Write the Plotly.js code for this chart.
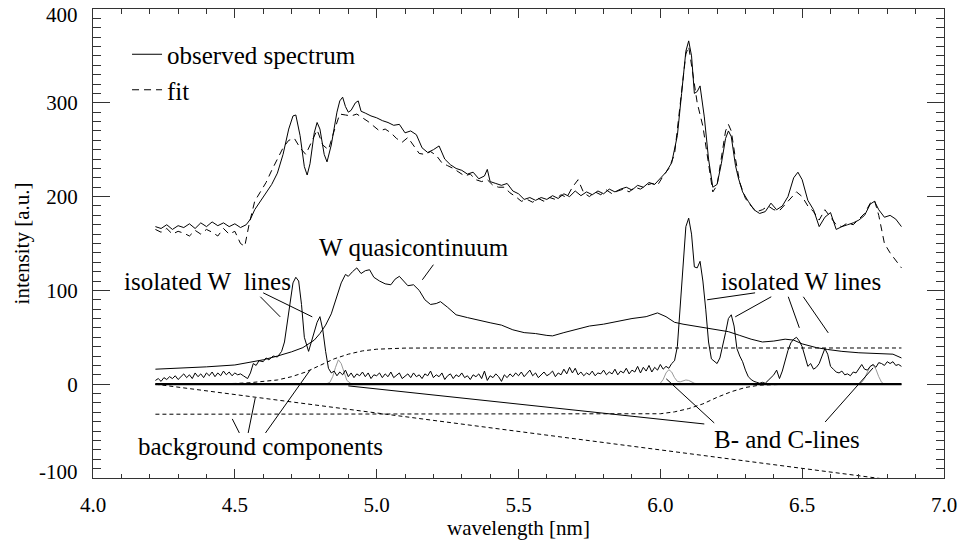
<!DOCTYPE html>
<html>
<head>
<meta charset="utf-8">
<script src="https://cdn.plot.ly/plotly-3.0.1.min.js"></script>
<style>html,body{margin:0;padding:0;background:#fff;}#chart{width:959px;height:540px;}</style>
</head>
<body>
<div id="chart"></div>
<script>
// ---- observed spectrum ----
const obsX = [4.22,4.24,4.26,4.28,4.30,4.32,4.34,4.36,4.38,4.40,4.42,4.44,4.46,4.48,4.50,4.52,4.54,4.555,4.57,4.59,4.61,4.63,4.65,4.67,4.69,4.705,4.715,4.73,4.745,4.755,4.765,4.78,4.79,4.80,4.815,4.825,4.84,4.86,4.87,4.88,4.89,4.90,4.91,4.925,4.935,4.945,4.96,4.98,5.00,5.02,5.04,5.06,5.08,5.10,5.12,5.14,5.16,5.18,5.20,5.22,5.24,5.26,5.28,5.30,5.32,5.34,5.36,5.38,5.39,5.40,5.42,5.44,5.46,5.48,5.50,5.52,5.54,5.56,5.58,5.60,5.62,5.64,5.66,5.68,5.70,5.72,5.74,5.76,5.78,5.80,5.82,5.84,5.86,5.88,5.90,5.92,5.94,5.96,5.98,6.00,6.02,6.04,6.06,6.075,6.09,6.10,6.11,6.12,6.13,6.14,6.155,6.17,6.185,6.20,6.215,6.23,6.24,6.25,6.265,6.275,6.29,6.31,6.33,6.35,6.37,6.39,6.41,6.43,6.45,6.47,6.485,6.50,6.52,6.54,6.56,6.58,6.60,6.62,6.64,6.66,6.68,6.70,6.72,6.74,6.755,6.77,6.79,6.81,6.83,6.85];
const obsY = [168,166,170,165,169,167,171,166,172,168,173,169,172,168,171,167,170,176,186,195,205,213,225,245,272,286,287,265,232,223,235,268,279,272,245,237,255,290,302,306,296,290,292,300,302,291,289,286,284,281,279,276,277,268,270,266,252,247,250,254,240,234,230,228,224,226,219,222,229,216,214,212,214,206,203,197,199,196,199,197,201,198,203,200,206,201,205,202,206,203,208,205,208,210,207,212,210,215,213,220,226,236,265,310,355,366,350,310,312,318,285,240,210,213,235,262,270,264,233,220,205,195,186,182,184,193,186,190,200,220,226,218,196,186,168,178,183,165,168,170,172,175,180,192,195,186,178,180,176,168];

// ---- fit ----
const fitX = [4.22,4.24,4.26,4.28,4.30,4.32,4.34,4.36,4.38,4.40,4.42,4.44,4.46,4.48,4.50,4.52,4.535,4.55,4.57,4.59,4.61,4.63,4.65,4.67,4.69,4.71,4.73,4.75,4.77,4.79,4.81,4.83,4.85,4.87,4.89,4.91,4.93,4.95,4.97,4.99,5.01,5.03,5.05,5.07,5.09,5.11,5.13,5.15,5.17,5.19,5.21,5.23,5.25,5.27,5.29,5.31,5.33,5.35,5.37,5.39,5.41,5.43,5.45,5.47,5.49,5.51,5.53,5.55,5.57,5.59,5.61,5.63,5.65,5.67,5.69,5.71,5.73,5.75,5.77,5.79,5.81,5.83,5.85,5.87,5.89,5.91,5.93,5.95,5.97,5.99,6.01,6.03,6.05,6.07,6.09,6.10,6.115,6.13,6.15,6.17,6.185,6.20,6.215,6.23,6.24,6.25,6.265,6.28,6.30,6.32,6.34,6.36,6.38,6.40,6.42,6.44,6.46,6.48,6.50,6.52,6.54,6.56,6.58,6.60,6.62,6.64,6.66,6.68,6.70,6.72,6.74,6.755,6.77,6.79,6.81,6.83,6.85];
const fitY = [165,162,166,160,163,161,158,164,160,165,162,158,166,160,163,150,147,170,195,205,215,228,240,252,260,262,252,245,258,271,255,250,270,288,287,286,288,284,280,275,270,272,268,262,258,263,255,246,245,248,244,236,233,230,226,222,224,218,216,218,212,210,210,204,200,195,197,194,198,195,199,197,202,199,210,218,204,200,205,202,207,203,206,208,205,210,208,212,214,212,222,230,245,300,352,360,330,300,275,235,205,212,240,270,277,270,240,215,198,190,184,186,190,186,185,192,198,205,200,190,184,175,186,178,170,168,172,170,176,182,193,196,180,150,140,132,124];

// ---- W quasicontinuum ----
const qcX = [4.22,4.30,4.40,4.50,4.55,4.60,4.65,4.70,4.74,4.78,4.80,4.82,4.84,4.86,4.875,4.89,4.90,4.915,4.93,4.945,4.96,4.975,4.99,5.01,5.03,5.05,5.065,5.08,5.095,5.11,5.13,5.15,5.17,5.19,5.21,5.225,5.25,5.28,5.32,5.36,5.40,5.44,5.48,5.52,5.56,5.60,5.62,5.66,5.70,5.75,5.80,5.85,5.90,5.95,5.99,6.02,6.05,6.08,6.12,6.16,6.20,6.24,6.28,6.32,6.36,6.40,6.44,6.47,6.50,6.55,6.59,6.64,6.70,6.76,6.82,6.85];
const qcY = [16,17,18.5,20.5,23,26,30,34.5,39,47,54,63,75,94,108,117,115,120,124,118,121,122,114,110,107,106,112,115,110,105,106,100,90,85,86,88,82,74,71,68,65.5,63,58,55,54,52,51.5,55,58,62,64,67,70,72,76,72,66,64,62,60,58,56,52,48,45,46,48,47,43,39,37,35,33.5,33,32,28];

// ---- isolated W lines ----
const wlX = [4.22,4.23,4.24,4.25,4.26,4.27,4.28,4.29,4.30,4.31,4.32,4.33,4.34,4.35,4.36,4.37,4.38,4.39,4.40,4.41,4.42,4.43,4.44,4.45,4.46,4.47,4.48,4.49,4.50,4.51,4.52,4.53,4.545,4.555,4.565,4.575,4.585,4.60,4.61,4.62,4.635,4.65,4.665,4.675,4.685,4.695,4.705,4.715,4.725,4.735,4.745,4.76,4.775,4.79,4.80,4.81,4.82,4.83,4.84,4.85,4.86,4.87,4.88,4.89,4.90,4.91,4.92,4.93,4.94,4.95,4.96,4.97,4.98,4.99,5.00,5.01,5.02,5.03,5.04,5.05,5.06,5.07,5.08,5.09,5.10,5.11,5.12,5.13,5.14,5.15,5.16,5.17,5.18,5.19,5.20,5.21,5.22,5.23,5.24,5.25,5.26,5.27,5.28,5.29,5.30,5.31,5.32,5.33,5.34,5.35,5.36,5.37,5.38,5.39,5.40,5.41,5.42,5.43,5.44,5.45,5.46,5.47,5.48,5.49,5.50,5.51,5.52,5.53,5.54,5.55,5.56,5.57,5.58,5.59,5.60,5.61,5.62,5.63,5.64,5.65,5.66,5.67,5.68,5.69,5.70,5.71,5.72,5.73,5.74,5.75,5.76,5.77,5.78,5.79,5.80,5.81,5.82,5.83,5.84,5.85,5.86,5.87,5.88,5.89,5.90,5.91,5.92,5.93,5.94,5.95,5.96,5.97,5.98,5.99,6.00,6.01,6.02,6.03,6.04,6.05,6.06,6.07,6.08,6.09,6.10,6.11,6.12,6.13,6.14,6.15,6.16,6.17,6.18,6.19,6.20,6.21,6.22,6.23,6.24,6.25,6.26,6.27,6.28,6.29,6.30,6.31,6.32,6.33,6.34,6.35,6.36,6.37,6.38,6.39,6.40,6.41,6.42,6.43,6.44,6.45,6.46,6.47,6.48,6.49,6.50,6.51,6.52,6.53,6.54,6.55,6.56,6.57,6.58,6.59,6.60,6.61,6.62,6.63,6.64,6.65,6.66,6.67,6.68,6.69,6.70,6.71,6.72,6.73,6.74,6.75,6.76,6.77,6.78,6.79,6.80,6.81,6.82,6.83,6.84,6.85];
const wlY = [4,6,3,7,5,8,6,9,5,8,11,7,10,6,12,8,11,7,12,9,13,8,12,9,14,10,13,9,12,10,11,9,6,12,22,20,25,24,28,26,30,29,35,45,65,90,108,114,110,85,50,35,50,66,72,58,35,17,12,14,9,13,10,15,8,12,7,11,9,13,8,12,6,10,9,12,7,11,8,13,7,10,12,6,9,11,7,12,8,10,6,11,9,14,7,10,8,12,5,9,11,6,10,8,12,7,9,5,10,8,11,6,14,4,9,7,11,8,3,10,7,11,8,12,9,13,8,11,15,9,12,7,10,13,9,11,14,8,12,10,16,11,18,12,17,10,13,9,12,10,14,9,12,11,15,10,13,11,16,10,14,12,17,11,15,13,19,12,18,14,20,13,18,15,21,16,19,17,22,25,40,80,130,168,177,160,125,124,131,110,80,45,27,24,22,28,40,55,70,74,62,38,30,24,15,8,5,3,2,1,2,1,4,7,10,15,6,14,26,36,44,48,50,46,40,28,19,22,16,18,22,30,38,32,19,16,13,12,14,10,11,9,13,12,17,21,16,15,19,21,18,23,22,20,24,22,24,20,21,19];

// ---- B- and C-lines ----
const bcX = [4.22,4.82,4.835,4.845,4.855,4.865,4.875,4.885,4.895,4.91,4.93,5.99,6.00,6.01,6.02,6.03,6.04,6.05,6.06,6.07,6.08,6.09,6.10,6.11,6.12,6.14,6.70,6.71,6.72,6.73,6.74,6.75,6.76,6.77,6.78,6.79,6.85];
const bcY = [0,0,2,8,18,26,22,12,4,0.5,0,0,1,5,12,15.5,13,7,3,2.5,3.5,4.5,4,2.5,1,0,0,2,6,13,19,20.5,16,8,2,0,0];

// ---- background components ----
const bgStepX = [4.22,4.40,4.50,4.55,4.60,4.65,4.70,4.75,4.80,4.85,4.90,4.95,5.00,5.05,5.10,5.20,6.85];
const bgStepY = [0,0.3,0.8,1.5,2.8,4.5,8,13,20,27,32,35.5,37.3,38.2,38.5,38.6,38.6];
const bgLowX = [4.22,5.95,6.00,6.05,6.10,6.15,6.20,6.25,6.30,6.35,6.40,6.45,6.85];
const bgLowY = [-32,-32,-31.5,-29.5,-26,-21,-14,-8,-3.5,-1,-0.3,0,0];
const bgLinX = [4.22,6.85];
const bgLinY = [0,-103.5];
const zeroX = [4.22,6.85];
const zeroY = [0,0];

// ---- tick labels ----
const xTickVals = [4.0,4.5,5.0,5.5,6.0,6.5,7.0];
const xTickText = ['4.0','4.5','5.0','5.5','6.0','6.5','7.0'];
const yTickVals = [-100,0,100,200,300,400];
const yTickText = ['','0','100','200','300',''];
// end labels are drawn slightly inside the frame, as in the original
const yEndLabels = [{v:-100, t:'-100', shift:6}, {v:400, t:'400', shift:-6}];

const FONT = '"Liberation Serif", "Times New Roman", "DejaVu Serif", serif';
const bgDash = '4px,3px';

const traces = [
  {x: bcX, y: bcY, mode:'lines', line:{color:'#999999', width:1}, showlegend:false},
  {x: bgStepX, y: bgStepY, mode:'lines', line:{color:'#000', width:1, dash:bgDash}, showlegend:false},
  {x: bgLowX, y: bgLowY, mode:'lines', line:{color:'#000', width:1, dash:bgDash}, showlegend:false},
  {x: bgLinX, y: bgLinY, mode:'lines', line:{color:'#000', width:1, dash:bgDash}, showlegend:false},
  {x: qcX, y: qcY, mode:'lines', line:{color:'#000', width:1}, showlegend:false},
  {x: wlX, y: wlY, mode:'lines', line:{color:'#000', width:1}, showlegend:false},
  {x: zeroX, y: zeroY, mode:'lines', line:{color:'#000', width:2.2}, showlegend:false},
  {x: obsX, y: obsY, mode:'lines', name:'observed spectrum', legendgroup:'a', line:{color:'#000', width:1}},
  {x: fitX, y: fitY, mode:'lines', name:'fit', legendgroup:'b', line:{color:'#000', width:1, dash:'7px,5px'}}
];

function seg(x0,y0,x1,y1){return {type:'line', xref:'x', yref:'y', x0:x0, y0:y0, x1:x1, y1:y1, line:{color:'#000', width:1}};}
const shapes = [
  seg(4.59,93.2,4.66,71.8), seg(4.60,97.4,4.773,71.8),
  seg(5.20,127.4,5.161,111.3),
  seg(6.334,97.4,6.165,90.0), seg(6.391,93.2,6.264,71.8), seg(6.451,93.2,6.490,60.1), seg(6.504,93.2,6.592,54.7),
  seg(4.516,-52,4.491,-37), seg(4.547,-52,4.572,-14.6), seg(4.608,-52,4.766,15.3),
  seg(6.155,-42.4,4.900,-1.8), seg(6.190,-41.3,6.021,5.7), seg(6.581,-40.3,6.750,17.4)
];
function ann(x,y,t){return {x:x, y:y, xref:'x', yref:'y', text:t, showarrow:false, font:{family:FONT, size:25, color:'#000'}, xanchor:'center', yanchor:'middle'};}
const annotations = [
  ann(4.403,109.2,'isolated W\u00a0\u00a0lines'),
  ann(5.133,145.5,'W quasicontinuum'),
  ann(6.496,109.2,'isolated W lines'),
  ann(4.591,-66.9,'background components'),
  ann(6.447,-59.4,'B- and C-lines')
].concat(yEndLabels.map(e => ({x:-13/851, y:e.v, xref:'paper', yref:'y', text:e.t, showarrow:false, xanchor:'right', yanchor:'middle', yshift:e.shift, font:{family:FONT, size:21, color:'#000'}})));

const layout = {
  width:959, height:540,
  margin:{l:93, r:15, t:9, b:62, pad:0},
  paper_bgcolor:'#fff', plot_bgcolor:'#fff',
  font:{family:FONT, color:'#000', size:20},
  showlegend:true,
  legend:{x:0.04, y:0.952, xanchor:'left', yanchor:'top', bgcolor:'rgba(0,0,0,0)', borderwidth:0, font:{family:FONT, size:25, color:'#000'}, traceorder:'grouped', tracegroupgap:0},
  xaxis:{range:[4,7], tickvals:xTickVals, ticktext:xTickText, ticks:'inside', ticklen:9, tickcolor:'#333', tickwidth:1,
    minor:{dtick:0.1, tick0:4, ticks:'inside', ticklen:4.5, tickcolor:'#333', tickwidth:1, showgrid:false},
    showline:true, linecolor:'#333', linewidth:1, mirror:'allticks', showgrid:false, zeroline:false, ticklabelstandoff:8,
    ticklabeloverflow:'allow',
    tickfont:{family:FONT, size:21, color:'#000'},
    title:{text:'wavelength [nm]', font:{family:FONT, size:21, color:'#000'}, standoff:6}, automargin:false},
  yaxis:{range:[-100,400], tickvals:yTickVals, ticktext:yTickText, ticks:'inside', ticklen:17, tickcolor:'#333', tickwidth:1,
    minor:{dtick:10, tick0:0, ticks:'inside', ticklen:8, tickcolor:'#333', tickwidth:1, showgrid:false},
    showline:true, linecolor:'#333', linewidth:1, mirror:'allticks', showgrid:false, zeroline:false, ticklabelstandoff:10,
    ticklabeloverflow:'allow',
    tickfont:{family:FONT, size:21, color:'#000'},
    title:{text:'intensity [a.u.]', font:{family:FONT, size:21, color:'#000'}, standoff:10}, automargin:false},
  shapes:shapes,
  annotations:annotations,
  hovermode:false
};

Plotly.newPlot('chart', traces, layout, {staticPlot:true, displayModeBar:false});
</script>
</body>
</html>
